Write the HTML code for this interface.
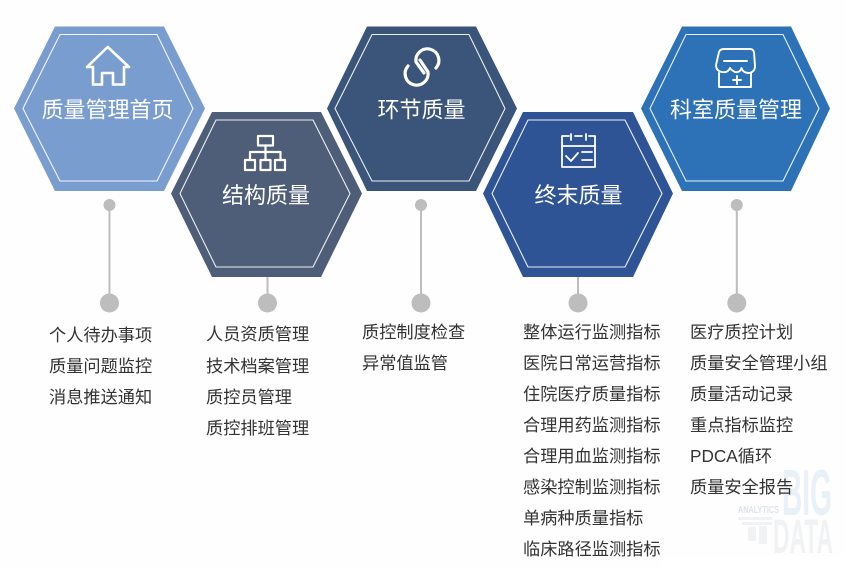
<!DOCTYPE html>
<html lang="zh">
<head>
<meta charset="utf-8">
<style>
html,body{margin:0;padding:0;background:#fefefe;}
svg{display:block;}
text{font-family:"Liberation Sans","Noto Sans CJK SC",sans-serif;}
.t{fill:#fff;font-size:22px;text-anchor:middle;}
.l{fill:#333;font-size:17.2px;}
.in{fill:none;stroke:#fff;stroke-width:1.1;opacity:.9;}
.ic{fill:none;stroke:#fff;stroke-width:2;stroke-linejoin:round;stroke-linecap:round;}
.c{stroke:#bdbdbd;stroke-width:2;}
.d{fill:#bdbdbd;}
</style>
</head>
<body>
<svg width="845" height="568" viewBox="0 0 845 568" xmlns="http://www.w3.org/2000/svg">
<rect width="845" height="568" fill="#fefefe"/>

<!-- watermark -->
<g style="font-weight:700">
<text x="782" y="515" font-size="65" textLength="50" lengthAdjust="spacingAndGlyphs" fill="#e9f1f8">BIG</text>
<text x="773" y="553" font-size="48" textLength="60" lengthAdjust="spacingAndGlyphs" fill="#f0f2f4">DATA</text>
<text x="738" y="513" font-size="10" textLength="41" lengthAdjust="spacingAndGlyphs" fill="#dfe3e7">ANALYTICS</text>
</g>
<g fill="#f0f2f4">
<rect x="738" y="517" width="34" height="3"/>
<rect x="742" y="522" width="30" height="3"/>
<rect x="748" y="527" width="8" height="14"/>
<rect x="759" y="526" width="8" height="18"/>
</g>
<rect x="660" y="556" width="185" height="12" fill="#fff"/>

<!-- connectors -->
<g>
<line class="c" x1="109.5" y1="205" x2="109.5" y2="303"/><circle class="d" cx="109.5" cy="205" r="6"/><circle class="d" cx="109.5" cy="303" r="9.5"/>
<line class="c" x1="267.5" y1="277" x2="267.5" y2="303"/><circle class="d" cx="267.5" cy="303" r="9.5"/>
<line class="c" x1="421" y1="205" x2="421" y2="303"/><circle class="d" cx="421" cy="205" r="6"/><circle class="d" cx="421" cy="303" r="9.5"/>
<line class="c" x1="578" y1="277" x2="578" y2="303"/><circle class="d" cx="578" cy="303" r="9.5"/>
<line class="c" x1="736.8" y1="205" x2="736.8" y2="303"/><circle class="d" cx="736.8" cy="205" r="6"/><circle class="d" cx="736.8" cy="303" r="9.5"/>
</g>

<!-- hex 1 -->
<polygon points="55,26.5 164,26.5 205,108.5 164,191 55,191 14,108.5" fill="#7a9dd0"/>
<polygon class="in" points="60,34.5 157,34.5 193,108.5 157,181 60,181 23,108.5"/>
<!-- hex 2 -->
<polygon points="212,112 321,112 362,193.5 321,277 212,277 171,193.5" fill="#4e5d78"/>
<polygon class="in" points="216,120 313,120 350,193.5 313,267 216,267 180,193.5"/>
<!-- hex 3 -->
<polygon points="367,26.5 476,26.5 517,108.5 476,191 367,191 327,108.5" fill="#3b5479"/>
<polygon class="in" points="372,34.5 469,34.5 505,108.5 469,181 372,181 335,108.5"/>
<!-- hex 4 -->
<polygon points="523,112 633,112 673,193.5 633,277 523,277 483,193.5" fill="#2e5496"/>
<polygon class="in" points="528,120 625,120 662,193.5 625,267 528,267 492,193.5"/>
<!-- hex 5 -->
<polygon points="682,26.5 791,26.5 830,108.5 791,191 682,191 641,108.5" fill="#2d72b6"/>
<polygon class="in" points="686,34.5 783,34.5 819,108.5 783,181 686,181 650,108.5"/>

<!-- icons -->
<path class="ic" style="stroke-width:2.6" d="M107.700 47 L129 67 L124 67 L124 84.500 L113 84.500 L113 73 L102 73 L102 84.500 L93 84.500 L93 67 L87 67 Z"/>

<g class="ic" style="stroke-width:2.2">
<rect x="258" y="136" width="15" height="9.500"/>
<line x1="265.500" y1="145.500" x2="265.500" y2="160"/>
<path d="M250 160 V152 H280.500 V160"/>
<rect x="245" y="160" width="10" height="10"/>
<rect x="260.500" y="160" width="10" height="10"/>
<rect x="275" y="160" width="10" height="10"/>
</g>

<g fill="none" stroke="#fff" stroke-width="3.2" stroke-linecap="round">
<path d="M436 68 A11.500 11.500 0 1 0 416 62 L424 73"/>
<path d="M408 66 A11.500 11.500 0 1 0 428 72 L420 60"/>
</g>

<g class="ic" style="stroke-width:1.8">
<path d="M569 136 H562 V167 H595 V136 H589"/>
<line x1="562" y1="146" x2="595" y2="146"/>
<line x1="571" y1="134" x2="571" y2="140"/>
<line x1="586" y1="134" x2="586" y2="140"/>
<line x1="575" y1="136" x2="582" y2="136"/>
<path d="M566 156 L571 161 L578 153"/>
<line x1="582" y1="152" x2="592" y2="152"/>
<line x1="582" y1="160" x2="592" y2="160"/>
</g>

<g class="ic" style="stroke-width:1.9">
<path d="M724 49 H750 Q753 49 754 52 L755 66 Q755 72 749 73 Q743 73 741.500 68 Q740 73 735 72 Q731 70 730 68 Q728 73 722 72 Q716 71 716 65 L719 52 Q720 49 724 49 Z"/>
<line x1="724" y1="61" x2="747" y2="61"/>
<path d="M719 73 V87 H751 V73"/>
<line x1="733" y1="80" x2="741" y2="80"/>
<line x1="737" y1="76" x2="737" y2="84"/>
</g>

<!-- titles -->
<text class="t" x="107.500" y="117.500">质量管理首页</text>
<text class="t" x="266" y="203">结构质量</text>
<text class="t" x="421.500" y="117.500">环节质量</text>
<text class="t" x="578.500" y="203">终末质量</text>
<text class="t" x="736" y="117.500">科室质量管理</text>

<!-- lists -->
<g>
<text class="l" x="49" y="341">个人待办事项</text>
<text class="l" x="49" y="372">质量问题监控</text>
<text class="l" x="49" y="403">消息推送通知</text>

<text class="l" x="206" y="340">人员资质管理</text>
<text class="l" x="206" y="372">技术档案管理</text>
<text class="l" x="206" y="403">质控员管理</text>
<text class="l" x="206" y="434">质控排班管理</text>

<text class="l" x="362" y="338">质控制度检查</text>
<text class="l" x="362" y="369">异常值监管</text>

<text class="l" x="523" y="338">整体运行监测指标</text>
<text class="l" x="523" y="369">医院日常运营指标</text>
<text class="l" x="523" y="400">住院医疗质量指标</text>
<text class="l" x="523" y="431">合理用药监测指标</text>
<text class="l" x="523" y="462">合理用血监测指标</text>
<text class="l" x="523" y="493">感染控制监测指标</text>
<text class="l" x="523" y="524">单病种质量指标</text>
<text class="l" x="523" y="555">临床路径监测指标</text>

<text class="l" x="690" y="338">医疗质控计划</text>
<text class="l" x="690" y="369">质量安全管理小组</text>
<text class="l" x="690" y="400">质量活动记录</text>
<text class="l" x="690" y="431">重点指标监控</text>
<text class="l" x="690" y="462">PDCA循环</text>
<text class="l" x="690" y="493">质量安全报告</text>
</g>
</svg>
</body>
</html>
